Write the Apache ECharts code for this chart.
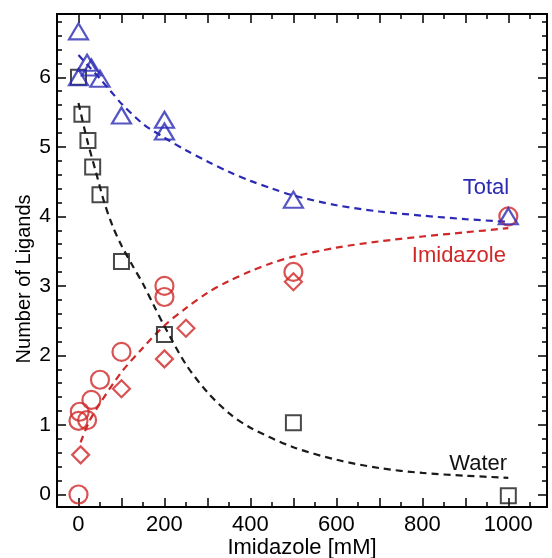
<!DOCTYPE html>
<html>
<head>
<meta charset="utf-8">
<script src="https://cdn.jsdelivr.net/npm/echarts@6/dist/echarts.min.js"></script>
<style>html,body{margin:0;padding:0;background:#fff}#c{width:552px;height:558px}</style>
</head>
<body>
<div id="c"></div>
<script>
// ---- data ----
var totalPts = [[0,6.66],[20,6.21],[30,6.14],[0,6.0],[50,5.98],[100,5.45],[200,5.39],[200,5.22],[500,4.24],[1000,4.0]];
var waterPts = [[0,6.0],[8,5.47],[22,5.09],[33,4.71],[50,4.31],[100,3.35],[200,2.30],[500,1.03],[1000,-0.02]];
var imidCircles = [[0,0.0],[0,1.06],[3,1.19],[20,1.07],[30,1.36],[50,1.65],[100,2.05],[200,3.0],[200,2.84],[500,3.2],[1000,4.0]];
var imidDiamonds = [[5,0.57],[100,1.52],[200,1.95],[250,2.39],[500,3.06]];
var totalFit = [[0,6.32],[25,6.15],[50,5.98],[75,5.8],[100,5.62],[150,5.33],[200,5.13],[250,4.95],[300,4.79],[350,4.64],[400,4.51],[450,4.4],[500,4.3],[600,4.16],[700,4.07],[800,4.01],[900,3.96],[1000,3.92]];
var waterFit = [[0,5.63],[20,5.1],[40,4.65],[60,4.2],[80,3.85],[100,3.58],[125,3.3],[150,3.03],[175,2.72],[200,2.42],[250,1.87],[300,1.47],[350,1.17],[400,0.96],[500,0.68],[600,0.5],[700,0.38],[800,0.31],[900,0.27],[1000,0.24]];
var imidFit = [[5,0.75],[25,1.05],[50,1.31],[100,1.76],[150,2.11],[200,2.43],[250,2.68],[300,2.9],[350,3.07],[400,3.21],[450,3.33],[500,3.42],[600,3.55],[700,3.64],[800,3.71],[900,3.77],[1000,3.83]];
var xLabelVals = [0,200,400,600,800,1000];
var xMajorTicks = [0,100,200,300,400,500,600,700,800,900,1000];
var xMinorTicks = [50,150,250,350,450,550,650,750,850,950,1050];
var yLabelVals = [0,1,2,3,4,5,6];
var annotations = [{text:'Total', x:948, y:4.41, color:'#2a2ab4'},{text:'Imidazole', x:885, y:3.43, color:'#d02828'},{text:'Water', x:930, y:0.44, color:'#111'}];
var yMinorTicks = [];
for (var i = 0; i <= 6; i++) { for (var k = 1; k <= 4; k++) { var v = +(i + k*0.2).toFixed(1); if (v < 6.9) yMinorTicks.push(v); } }

var BLUE = '#2a2ab4', RED = '#d02828', BLACK = '#1a1a1a';
var FONT = 'Liberation Sans, Arial, Helvetica, sans-serif';
var XMIN = -50, XMAX = 1090, YMIN = -0.18, YMAX = 6.91;

function fmt(v) { return String(v); }
function xa(pos, ticks, len, labels, extra) {
  var o = {
    type: 'value', position: pos, min: XMIN, max: XMAX,
    axisLine: {show: false, onZero: false},
    splitLine: {show: false},
    axisTick: {show: true, inside: true, length: len, customValues: ticks, lineStyle: {color: '#000', width: 1.5}},
    axisLabel: labels ? {show: true, customValues: labels, formatter: fmt, fontSize: 22, fontFamily: FONT, color: '#000', margin: 7} : {show: false}
  };
  return Object.assign(o, extra || {});
}
function ya(pos, ticks, len, labels) {
  return {
    type: 'value', position: pos, min: YMIN, max: YMAX,
    axisLine: {show: false, onZero: false},
    splitLine: {show: false},
    axisTick: {show: true, inside: true, length: len, customValues: ticks, lineStyle: {color: '#000', width: 1.5}},
    axisLabel: labels ? {show: true, customValues: labels, formatter: fmt, fontSize: 21, fontFamily: FONT, color: '#000', margin: 6} : {show: false}
  };
}

var chart = echarts.init(document.getElementById('c'), null, {renderer: 'canvas'});
var option = {
  animation: false,
  backgroundColor: '#fff',
  grid: {left: 57, right: 5, top: 14, bottom: 51, show: true, borderColor: '#000', borderWidth: 2, backgroundColor: 'transparent', outerBoundsMode: 'none', containLabel: false},
  xAxis: [
    xa('bottom', xMajorTicks, 9, xLabelVals, {name: 'Imidazole [mM]', nameLocation: 'middle', nameGap: 30, nameMoveOverlap: false, nameTextStyle: {fontSize: 22, fontFamily: FONT, color: '#000'}}),
    xa('bottom', xMinorTicks, 5, null),
    xa('top', xMajorTicks, 9, null),
    xa('top', xMinorTicks, 5, null)
  ],
  yAxis: [
    ya('left', yLabelVals, 9, yLabelVals),
    ya('left', yMinorTicks, 5, null),
    ya('right', yLabelVals, 9, null),
    ya('right', yMinorTicks, 5, null)
  ],
  series: [
    {type: 'line', data: waterFit, showSymbol: false, smooth: 0.3, lineStyle: {color: BLACK, width: 2.2, type: [7, 5]}, z: 2},
    {type: 'line', data: imidFit, showSymbol: false, smooth: 0.3, lineStyle: {color: RED, width: 2.2, type: [7, 5]}, z: 2},
    {type: 'line', data: totalFit, showSymbol: false, smooth: 0.3, lineStyle: {color: BLUE, width: 2.2, type: [7, 5]}, z: 2},
    {type: 'scatter', data: waterPts, symbol: 'rect', symbolSize: 15, itemStyle: {color: 'rgba(0,0,0,0)', borderColor: BLACK, borderWidth: 2}, z: 3},
    {type: 'scatter', data: imidCircles, symbol: 'circle', symbolSize: 18, itemStyle: {color: 'rgba(0,0,0,0)', borderColor: RED, borderWidth: 2.2}, z: 3},
    {type: 'scatter', data: imidDiamonds, symbol: 'diamond', symbolSize: 17, itemStyle: {color: 'rgba(0,0,0,0)', borderColor: RED, borderWidth: 2.2}, z: 3},
    {type: 'scatter', data: totalPts, symbol: 'triangle', symbolSize: [19, 16], itemStyle: {color: 'rgba(0,0,0,0)', borderColor: BLUE, borderWidth: 2.2}, z: 4}
  ]
};
chart.setOption(option);

var g = annotations.map(function (a) {
  var p = chart.convertToPixel({xAxisIndex: 0, yAxisIndex: 0}, [a.x, a.y]);
  return {type: 'text', x: p[0], y: p[1], style: {text: a.text, fill: a.color, font: '22px ' + FONT, align: 'center', verticalAlign: 'middle'}, z: 10};
});
var mid = chart.convertToPixel({yAxisIndex: 0}, 3.1);
g.push({type: 'text', x: 24, y: mid, rotation: Math.PI / 2, style: {text: 'Number of Ligands', fill: '#000', font: '20px ' + FONT, align: 'center', verticalAlign: 'middle'}, z: 10});
chart.setOption({graphic: g});
</script>
</body>
</html>
